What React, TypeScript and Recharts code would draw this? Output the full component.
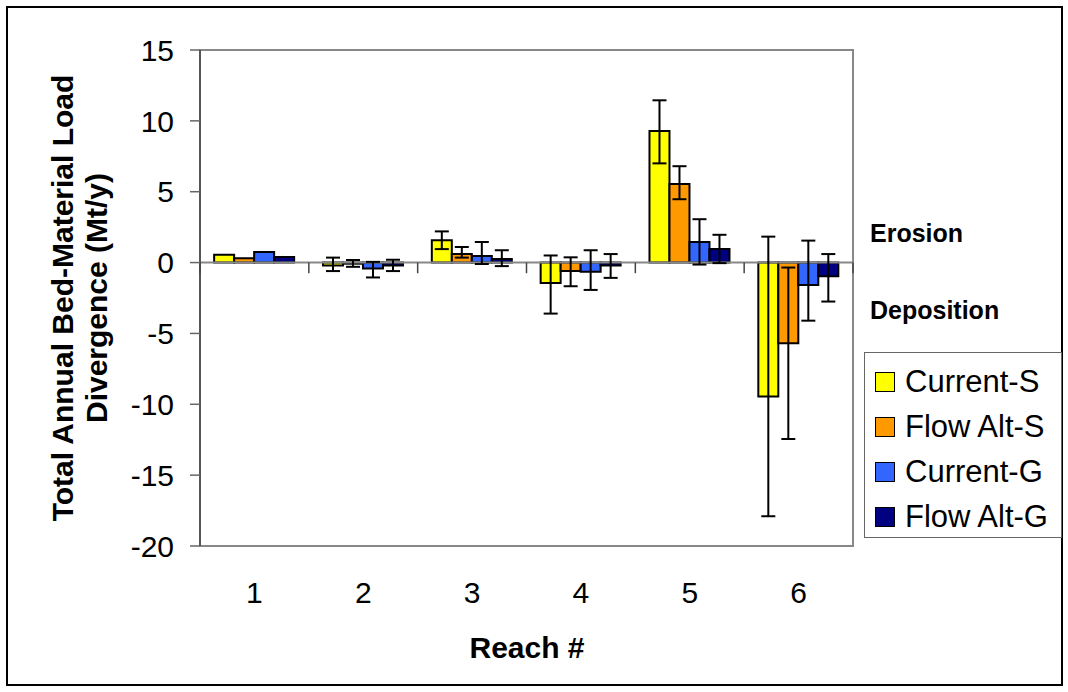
import {
  Bar,
  BarChart,
  ErrorBar,
  ReferenceArea,
  ReferenceLine,
  XAxis,
  YAxis,
} from "recharts";

const reaches = ["1", "2", "3", "4", "5", "6"];

const currentS = [0.55, -0.2, 1.57, -1.45, 9.28, -9.45];
const flowAltS = [0.3, -0.08, 0.6, -0.6, 5.55, -5.7];
const currentG = [0.75, -0.42, 0.47, -0.65, 1.46, -1.58];
const flowAltG = [0.4, -0.2, 0.25, -0.2, 0.96, -0.97];

// [minus, plus] error offsets; reach 1 has none
const currentSErr = [null, [0.4, 0.55], [0.62, 0.63], [2.15, 1.95], [2.28, 2.17], [8.45, 11.28]];
const flowAltSErr = [null, [0.22, 0.26], [0.25, 0.5], [1.07, 0.97], [1.08, 1.25], [6.75, 5.35]];
const currentGErr = [null, [0.63, 0.47], [0.57, 0.98], [1.28, 1.52], [1.6, 1.6], [2.52, 3.13]];
const flowAltGErr = [null, [0.4, 0.4], [0.5, 0.62], [0.88, 0.8], [1.0, 1.0], [1.78, 1.57]];

const yTicks = [15, 10, 5, 0, -5, -10, -15, -20];

const series = [
  { key: "cs", name: "Current-S", color: "#FFFF00" },
  { key: "fs", name: "Flow Alt-S", color: "#FF9900" },
  { key: "cg", name: "Current-G", color: "#3366FF" },
  { key: "fg", name: "Flow Alt-G", color: "#000080" },
];

const data = reaches.map((r, i) => ({
  reach: r,
  cs: currentS[i],
  fs: flowAltS[i],
  cg: currentG[i],
  fg: flowAltG[i],
  csErr: currentSErr[i],
  fsErr: flowAltSErr[i],
  cgErr: currentGErr[i],
  fgErr: flowAltGErr[i],
}));

const FONT = "'Liberation Sans', Arial, sans-serif";

function LegendBox() {
  return (
    <div
      style={{
        position: "absolute",
        left: 864,
        top: 352,
        width: 198,
        height: 186,
        border: "1.5px solid #666",
        background: "#fff",
        boxSizing: "border-box",
        paddingTop: 6,
      }}
    >
      {series.map((s) => (
        <div
          key={s.key}
          style={{ display: "flex", alignItems: "center", height: 45, paddingLeft: 10 }}
        >
          <span
            style={{
              width: 18,
              height: 18,
              background: s.color,
              border: "1.5px solid #000",
              marginRight: 10,
              flexShrink: 0,
            }}
          />
          <span style={{ fontSize: 31, color: "#000", lineHeight: 1 }}>{s.name}</span>
        </div>
      ))}
    </div>
  );
}

export default function App() {
  return (
    <div
      style={{
        position: "absolute",
        left: 0,
        top: 0,
        width: 1068,
        height: 692,
        background: "#fff",
        fontFamily: FONT,
      }}
    >
      <div
        style={{
          position: "absolute",
          left: 6,
          top: 6,
          width: 1057,
          height: 680,
          border: "2px solid #000",
          boxSizing: "border-box",
        }}
      />
      <BarChart
        width={1068}
        height={692}
        data={data}
        margin={{ top: 50, right: 215, bottom: 86, left: 0 }}
        barCategoryGap="13%"
        barGap={0}
        style={{ fontFamily: FONT }}
      >
        <XAxis
          dataKey="reach"
          axisLine={false}
          tickLine={false}
          tickSize={0}
          tickMargin={36}
          height={60}
          tick={{ fontSize: 30, fill: "#000" }}
        />
        <YAxis
          width={200}
          domain={[-20, 15]}
          ticks={yTicks}
          interval={0}
          tickSize={10}
          tickMargin={16}
          axisLine={{ stroke: "#444", strokeWidth: 1.5 }}
          tickLine={{ stroke: "#666", strokeWidth: 1.5 }}
          tick={{ fontSize: 30, fill: "#000" }}
        />
        <ReferenceArea
          x1={reaches[0]}
          x2={reaches[reaches.length - 1]}
          y1={-20}
          y2={15}
          fill="none"
          stroke="#888"
          strokeWidth={2}
          ifOverflow="visible"
        />
        <ReferenceLine y={0} stroke="#888" strokeWidth={2} />
        {reaches.map((r) => (
          <ReferenceLine
            key={r}
            segment={[
              { x: r, y: 0 },
              { x: r, y: -0.75 },
            ]}
            position="start"
            stroke="#444"
            strokeWidth={1.5}
            ifOverflow="visible"
          />
        ))}
        <ReferenceLine
          segment={[
            { x: reaches[reaches.length - 1], y: 0 },
            { x: reaches[reaches.length - 1], y: -0.75 },
          ]}
          position="end"
          stroke="#444"
          strokeWidth={1.5}
          ifOverflow="visible"
        />
        {series.map((s) => (
          <Bar
            key={s.key}
            dataKey={s.key}
            name={s.name}
            fill={s.color}
            stroke="#000"
            strokeWidth={2}
            isAnimationActive={false}
          >
            <ErrorBar
              dataKey={`${s.key}Err`}
              direction="y"
              width={7}
              stroke="#000"
              strokeWidth={2}
            />
          </Bar>
        ))}
      </BarChart>
      <LegendBox />
      <div style={{ position: "absolute", left: 80, top: 298, width: 0, height: 0 }}>
        <div
          style={{
            position: "absolute",
            left: 0,
            top: 0,
            transform: "translate(-50%, -50%) rotate(-90deg)",
            whiteSpace: "nowrap",
            textAlign: "center",
            fontWeight: "bold",
            fontSize: 30,
            lineHeight: "34px",
            color: "#000",
          }}
        >
          Total Annual Bed-Material Load
          <br />
          Divergence (Mt/y)
        </div>
      </div>
      <div
        style={{
          position: "absolute",
          left: 527,
          top: 648,
          transform: "translate(-50%, -50%)",
          fontWeight: "bold",
          fontSize: 30,
          color: "#000",
          whiteSpace: "nowrap",
        }}
      >
        Reach #
      </div>
      <div
        style={{
          position: "absolute",
          left: 870,
          top: 233,
          transform: "translateY(-50%)",
          fontWeight: "bold",
          fontSize: 25,
          color: "#000",
        }}
      >
        Erosion
      </div>
      <div
        style={{
          position: "absolute",
          left: 870,
          top: 310,
          transform: "translateY(-50%)",
          fontWeight: "bold",
          fontSize: 25,
          color: "#000",
        }}
      >
        Deposition
      </div>
    </div>
  );
}
